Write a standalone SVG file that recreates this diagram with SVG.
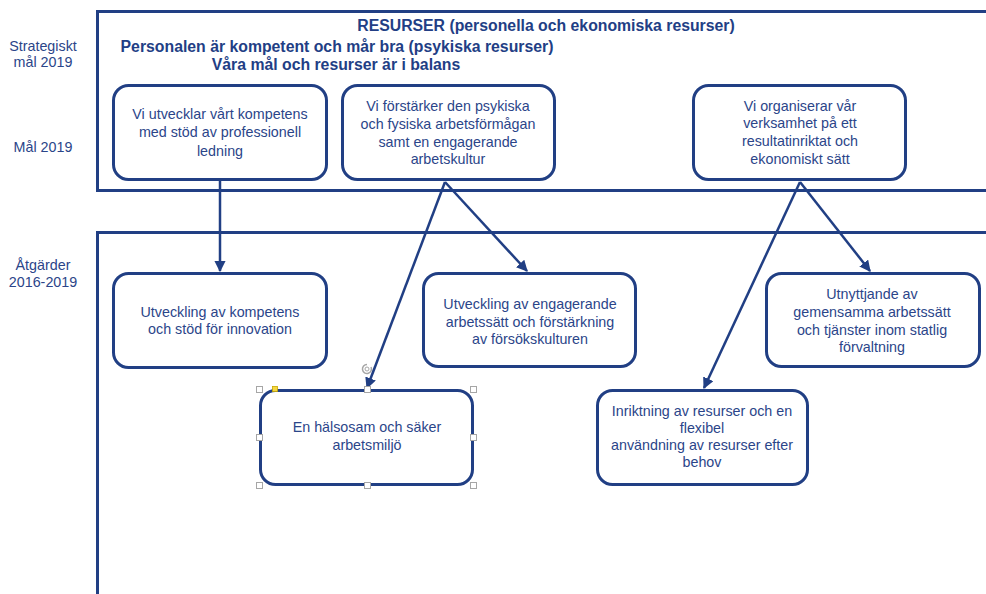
<svg xmlns="http://www.w3.org/2000/svg" width="986" height="594" viewBox="0 0 986 594">
<defs>
<style>
.frame{fill:none;stroke:#213F84;stroke-width:3}
.box{fill:#fff;stroke:#213F84;stroke-width:3}
.t{font-family:"Liberation Sans",Arial,sans-serif;font-size:14.3px;fill:#2B4589;text-anchor:middle}
.l{font-family:"Liberation Sans",Arial,sans-serif;font-size:14.3px;fill:#2B4589;text-anchor:middle}
.h{font-family:"Liberation Sans",Arial,sans-serif;font-weight:bold;font-size:15.8px;fill:#223E85;text-anchor:middle}
.c{fill:none;stroke:#213F84;stroke-width:2.5}
.hd{fill:#fff;stroke:#A6A6A6;stroke-width:1}
</style>
<marker id="arr" viewBox="0 0 10 10" refX="9" refY="5" markerWidth="4.5" markerHeight="4.5" orient="auto" markerUnits="strokeWidth">
<path d="M0,0 L10,5 L0,10 z" fill="#213F84"/>
</marker>
</defs>
<rect width="986" height="594" fill="#fff"/>
<g id="frames">
<path class="frame" d="M990,11.5 H97.5 V190.5 H990"/>
<path class="frame" d="M990,232.5 H97.5 V600"/>
</g>
<g id="labels">
<text class="l" x="43" y="51">Strategiskt</text>
<text class="l" x="43" y="67">mål 2019</text>
<text class="l" x="43" y="152">Mål 2019</text>
<text class="l" x="43" y="270">Åtgärder</text>
<text class="l" x="43" y="287">2016-2019</text>
</g>
<g id="title">
<text class="h" x="546" y="31">RESURSER (personella och ekonomiska resurser)</text>
<text class="h" x="337" y="52">Personalen är kompetent och mår bra (psykiska resurser)</text>
<text class="h" x="336" y="70">Våra mål och resurser är i balans</text>
</g>
<g id="connectors">
<path class="c" d="M220,181 V271" marker-end="url(#arr)"/>
<path class="c" d="M445,182 L367,388" marker-end="url(#arr)"/>
<path class="c" d="M445,182 L527,271" marker-end="url(#arr)"/>
<path class="c" d="M800,182 L704,388" marker-end="url(#arr)"/>
<path class="c" d="M800,182 L870,271" marker-end="url(#arr)"/>
</g>
<g id="goal1">
<rect class="box" x="113.5" y="85.5" width="213" height="94" rx="15"/>
<text class="t" x="220" y="119">Vi utvecklar vårt kompetens</text>
<text class="t" x="220" y="137">med stöd av professionell</text>
<text class="t" x="220" y="156">ledning</text>
</g>
<g id="goal2">
<rect class="box" x="342.5" y="85.5" width="212" height="94" rx="15"/>
<text class="t" x="448" y="111">Vi förstärker den psykiska</text>
<text class="t" x="448" y="129">och fysiska arbetsförmågan</text>
<text class="t" x="448" y="147">samt en engagerande</text>
<text class="t" x="448" y="164">arbetskultur</text>
</g>
<g id="goal3">
<rect class="box" x="693.5" y="85.5" width="212" height="94" rx="15"/>
<text class="t" x="800" y="111">Vi organiserar vår</text>
<text class="t" x="800" y="128">verksamhet på ett</text>
<text class="t" x="800" y="146">resultatinriktat och</text>
<text class="t" x="800" y="164">ekonomiskt sätt</text>
</g>
<g id="act1">
<rect class="box" x="113.5" y="273.5" width="213" height="94" rx="15"/>
<text class="t" x="220" y="317">Utveckling av kompetens</text>
<text class="t" x="220" y="334">och stöd för innovation</text>
</g>
<g id="act2">
<rect class="box" x="423.5" y="273.5" width="212" height="93" rx="15"/>
<text class="t" x="530" y="309">Utveckling av engagerande</text>
<text class="t" x="530" y="327">arbetssätt och förstärkning</text>
<text class="t" x="530" y="344">av försökskulturen</text>
</g>
<g id="act3">
<rect class="box" x="766.5" y="273.5" width="213" height="93" rx="15"/>
<text class="t" x="872" y="299">Utnyttjande av</text>
<text class="t" x="872" y="317">gemensamma arbetssätt</text>
<text class="t" x="872" y="335">och tjänster inom statlig</text>
<text class="t" x="872" y="352">förvaltning</text>
</g>
<g id="act4">
<rect class="box" x="260.5" y="390.5" width="212" height="94" rx="15"/>
<text class="t" x="367" y="432">En hälsosam och säker</text>
<text class="t" x="367" y="450">arbetsmiljö</text>
</g>
<g id="act5">
<rect class="box" x="597.5" y="390.5" width="210" height="94" rx="15"/>
<text class="t" x="702" y="416">Inriktning av resurser och en</text>
<text class="t" x="702" y="433">flexibel</text>
<text class="t" x="702" y="450">användning av resurser efter</text>
<text class="t" x="702" y="467">behov</text>
</g>
<g id="selection">
<rect class="hd" x="256.5" y="386.5" width="6" height="6"/>
<rect class="hd" x="364.5" y="386.5" width="6" height="6"/>
<rect class="hd" x="470.5" y="386.5" width="6" height="6"/>
<rect class="hd" x="256.5" y="434.5" width="6" height="6"/>
<rect class="hd" x="470.5" y="434.5" width="6" height="6"/>
<rect class="hd" x="256.5" y="482.5" width="6" height="6"/>
<rect class="hd" x="364.5" y="482.5" width="6" height="6"/>
<rect class="hd" x="470.5" y="482.5" width="6" height="6"/>
<rect x="272.5" y="386.5" width="5" height="5" fill="#F5D742" stroke="#C9A800" stroke-width="0.8"/>
<path d="M371,367 A4.5,4.5 0 1 1 367,364.5" fill="none" stroke="#A6A6A6" stroke-width="1.5"/>
<circle cx="367" cy="369" r="2" fill="none" stroke="#A6A6A6" stroke-width="1"/>
</g>
</svg>
